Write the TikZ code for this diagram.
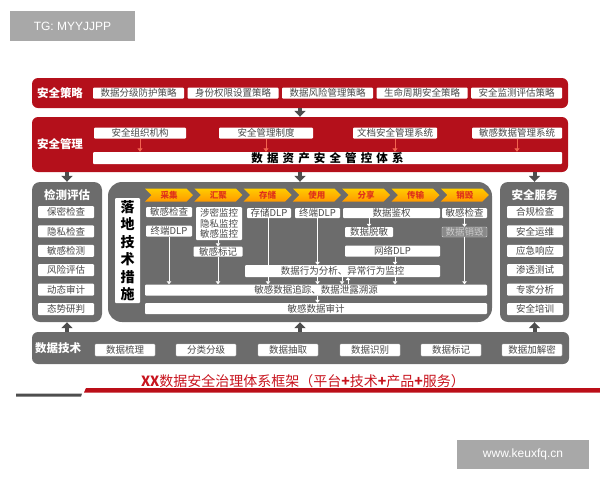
\documentclass[tikz,border=0pt]{standalone}
\usepackage{fontspec}
\setmainfont{Noto Sans CJK SC}
\newfontfamily\latinsans{Liberation Sans}
\usetikzlibrary{shapes.symbols,arrows.meta}
\definecolor{bandred}{HTML}{B4101B}
\definecolor{boxgray}{HTML}{6C6C6C}
\definecolor{arrowgray}{HTML}{4E4E4E}
\definecolor{textgray}{HTML}{4A4A4A}
\definecolor{stagered}{HTML}{E0321A}
\definecolor{pinkred}{HTML}{F26450}
\definecolor{titlered}{HTML}{C8141E}
\definecolor{markgray}{HTML}{A8A8A8}
\tikzset{
  redband/.style={fill=bandred,rounded corners=6pt,inner sep=0pt},
  grayband/.style={fill=boxgray,rounded corners=8pt,inner sep=0pt},
  itembox/.style={fill=white,rounded corners=1pt,inner sep=0pt,text=textgray,font=\fontsize{9.5}{10.5}\selectfont},
  bandtitle/.style={text=white,font=\fontsize{11.5}{13}\selectfont\bfseries},
  bigarrow/.style={draw=arrowgray,line width=4pt,-{Triangle[width=11pt,length=6pt]}},
  redarrow/.style={draw=pinkred,line width=1pt,-{Triangle[width=5pt,length=3.5pt]}},
  whitearrow/.style={draw=white,line width=0.9pt,-{Triangle[width=4.5pt,length=3pt]}},
  stagebox/.style={signal,signal from=west,signal to=east,minimum width=48pt,minimum height=13pt,inner sep=0pt,
    top color=yellow!60!orange,bottom color=orange!80!yellow,text=stagered,font=\fontsize{8.5}{9}\selectfont\bfseries},
  watermark/.style={fill=markgray,inner sep=0pt,text=white,font=\latinsans\fontsize{12}{14}\selectfont},
}
\begin{document}
\begin{tikzpicture}[x=1pt,y=-1pt]
\useasboundingbox (0,0) rectangle (600,480);
\node[watermark,minimum width=125pt,minimum height=30pt] at (72.5,26) (tg) {TG: MYYJJPP};
\node[watermark,minimum width=132pt,minimum height=29pt] at (523,454.5) (site) {www.keuxfq.cn};

\node[redband,minimum width=536pt,minimum height=30pt] at (300,93) (celue) {};
\node[bandtitle] at (60,93) (celuetitle) {安全策略};
\foreach \name/\x [count=\i] in {数据分级防护策略/138.5,身份权限设置策略/233,数据风险管理策略/327.5,生命周期安全策略/422,安全监测评估策略/516.5}
  \node[itembox,minimum width=91pt,minimum height=11pt] at (\x,93) (policy\i) {\name};

\node[redband,minimum width=536pt,minimum height=55pt] at (300,144.5) (guanli) {};
\node[bandtitle] at (60,144) (guanlititle) {安全管理};
\node[itembox,minimum width=92pt,minimum height=11pt] at (140,133) (mgmt1) {安全组织机构};
\node[itembox,minimum width=94pt,minimum height=11pt] at (266,133) (mgmt2) {安全管理制度};
\node[itembox,minimum width=84pt,minimum height=11pt] at (395,133) (mgmt3) {文档安全管理系统};
\node[itembox,minimum width=90pt,minimum height=11pt] at (517,133) (mgmt4) {敏感数据管理系统};
\node[itembox,minimum width=469pt,minimum height=12pt,text=black,font=\fontsize{11.5}{12}\selectfont\bfseries\addfontfeature{LetterSpace=36}] at (327.5,158) (tixi) {数据资产安全管控体系};
\foreach \i in {1,...,4}
  \draw[redarrow] (mgmt\i.south) -- (mgmt\i.south |- tixi.north);
\draw[bigarrow] (celue.south) -- (guanli.north);

\node[grayband,minimum width=70pt,minimum height=140pt] at (67,252) (jiance) {};
\node[bandtitle] at (67,195) (jiancetitle) {检测评估};
\foreach \name [count=\i from 0] in {保密检查,隐私检查,敏感检测,风险评估,动态审计,态势研判}
  \node[itembox,minimum width=56pt,minimum height=12pt] at (66,{212+19.4*\i}) (jc\i) {\name};

\node[grayband,minimum width=69pt,minimum height=140pt] at (534.5,252) (fuwu) {};
\node[bandtitle] at (534.5,195) (fuwutitle) {安全服务};
\foreach \name [count=\i from 0] in {合规检查,安全运维,应急响应,渗透测试,专家分析,安全培训}
  \node[itembox,minimum width=56pt,minimum height=12pt] at (535,{212+19.4*\i}) (fw\i) {\name};

\node[grayband,rounded corners=14pt,minimum width=384pt,minimum height=140pt] at (300,252) (cuoshi) {};
\node[itembox,minimum width=25pt,minimum height=105pt,align=center,text=black,font=\fontsize{14}{17.5}\selectfont\bfseries] at (127.5,250.5) (luodi) {落\\地\\技\\术\\措\\施};
\foreach \name [count=\i from 0] in {采集,汇聚,存储,使用,分享,传输,销毁}
  \node[stagebox] at ({169+49.3*\i},195) (stage\i) {\name};

\node[itembox,minimum width=46pt,minimum height=10pt] at (169,212) (caiji1) {敏感检查};
\node[itembox,minimum width=46pt,minimum height=11pt] at (169,231) (caiji2) {终端DLP};
\node[itembox,minimum width=46pt,minimum height=33pt,align=center,font=\fontsize{9.5}{10.8}\selectfont] at (219,223.5) (huiju1) {涉密监控\\隐私监控\\敏感监控};
\node[itembox,minimum width=49pt,minimum height=10pt] at (218,251.5) (huiju2) {敏感标记};
\node[itembox,minimum width=44pt,minimum height=10pt] at (269,213) (cunchu1) {存储DLP};
\node[itembox,minimum width=45pt,minimum height=10pt] at (317.5,213) (shiyong1) {终端DLP};
\node[itembox,minimum width=97pt,minimum height=10pt] at (391.5,213) (fenxiang1) {数据鉴权};
\node[itembox,minimum width=48pt,minimum height=10pt] at (369,232) (fenxiang2) {数据脱敏};
\node[itembox,minimum width=95pt,minimum height=11pt] at (392.5,251) (chuanshu1) {网络DLP};
\node[itembox,minimum width=45pt,minimum height=10pt] at (464.5,213) (xiaohui1) {敏感检查};
\node[itembox,minimum width=45pt,minimum height=10pt,fill=boxgray!80!white,draw=white!85!black,text=white!80!black] at (464.5,232) (xiaohui2) {数据销毁};
\node[itembox,minimum width=195pt,minimum height=12pt] at (342.5,271) (fenxi) {数据行为分析、异常行为监控};
\node[itembox,minimum width=342pt,minimum height=11pt] at (316,290) (zhuizong) {敏感数据追踪、数据泄露溯源};
\node[itembox,minimum width=342pt,minimum height=11pt] at (316,308.5) (shenji) {敏感数据审计};

\draw[whitearrow] (caiji2.south) -- (caiji2.south |- zhuizong.north);
\draw[whitearrow] (huiju1.south -| huiju2.north) -- (huiju2.north);
\draw[whitearrow] (huiju2.south) -- (huiju2.south |- zhuizong.north);
\draw[whitearrow] (cunchu1.south -| 268,0) -- (zhuizong.north -| 268,0);
\draw[whitearrow] (shiyong1.south) -- (shiyong1.south |- fenxi.north);
\draw[whitearrow] (fenxi.south -| shiyong1.south) -- (zhuizong.north -| shiyong1.south);
\draw[whitearrow] (zhuizong.south -| shiyong1.south) -- (shenji.north -| shiyong1.south);
\draw[whitearrow] (fenxiang1.south -| fenxiang2.north) -- (fenxiang2.north);
\draw[whitearrow] (chuanshu1.south -| 395,0) -- (fenxi.north -| 395,0);
\draw[whitearrow] (fenxi.south -| 395,0) -- (zhuizong.north -| 395,0);
\draw[whitearrow] (fenxi.south -| 342,0) -- (zhuizong.north -| 342,0);
\draw[whitearrow] (zhuizong.north -| 348,0) -- (fenxi.south -| 348,0);
\draw[whitearrow] (xiaohui1.south) -- (xiaohui2.north);
\draw[whitearrow] (xiaohui2.south) -- (xiaohui2.south |- zhuizong.north);

\draw[bigarrow] (guanli.south -| jiance.north) -- (jiance.north);
\draw[bigarrow] (guanli.south -| cuoshi.north) -- (cuoshi.north);
\draw[bigarrow] (guanli.south -| fuwu.north) -- (fuwu.north);

\node[grayband,rounded corners=6pt,minimum width=537pt,minimum height=32pt] at (300.5,348) (jishu) {};
\node[bandtitle] at (58,348) (jishutitle) {数据技术};
\foreach \name/\x [count=\i] in {数据梳理/125,分类分级/206,数据抽取/288,数据识别/370,数据标记/451,数据加解密/532}
  \node[itembox,draw=white!80!black,minimum width=60pt,minimum height=12pt] at (\x,350) (tech\i) {\name};
\draw[bigarrow] (jishu.north -| jiance.south) -- (jiance.south);
\draw[bigarrow] (jishu.north -| cuoshi.south) -- (cuoshi.south);
\draw[bigarrow] (jishu.north -| fuwu.south) -- (fuwu.south);

\node[text=titlered,font=\fontsize{14}{16}\selectfont] at (303,381) (title) {\textbf{XX}数据安全治理体系框架（平台\textbf{+}技术\textbf{+}产品\textbf{+}服务）};
\fill[arrowgray] (16,393.5) -- (82,393.5) -- (81,396.5) -- (16,396.5) -- cycle;
\fill[bandred!90!red] (86,388) -- (600,388) -- (600,392.5) -- (84,392.5) -- cycle;
\end{tikzpicture}
\end{document}
